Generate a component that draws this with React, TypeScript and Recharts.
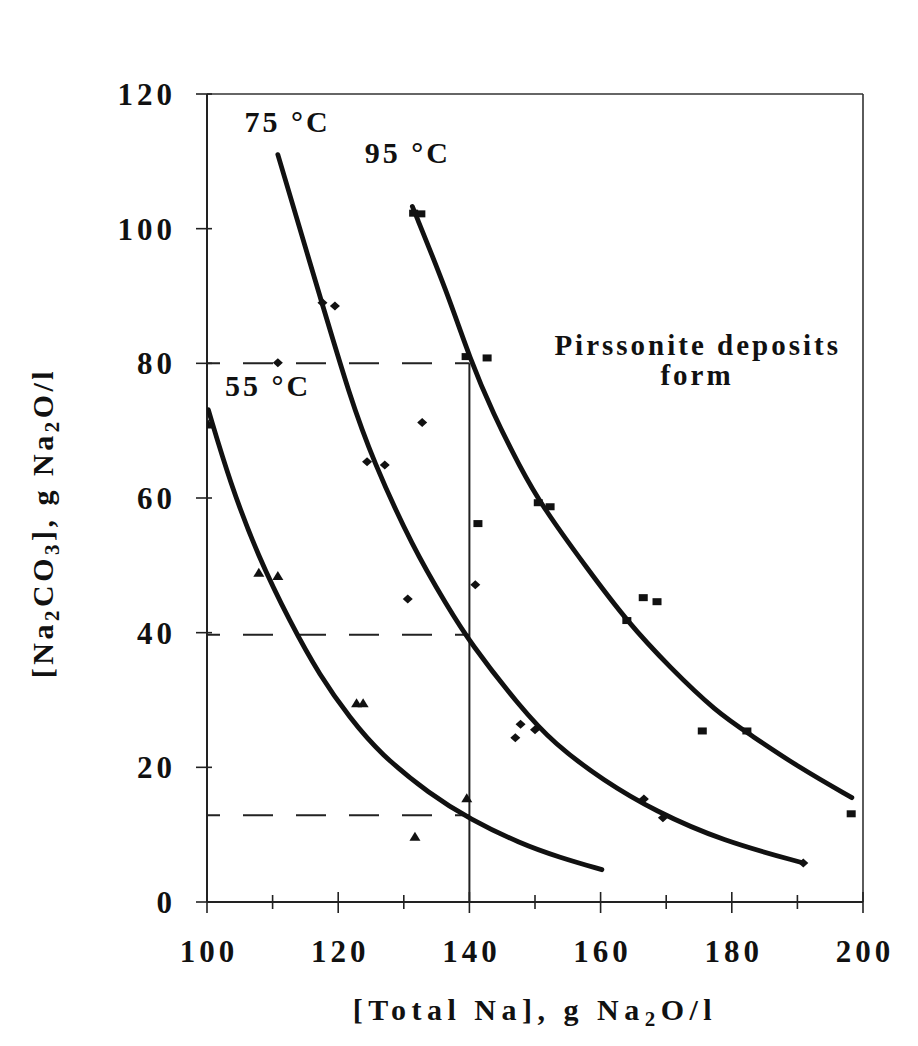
import React from 'react';
import { ComposedChart, Scatter, XAxis, YAxis, ReferenceLine, ReferenceDot, Label } from 'recharts';

const FONT = "'Liberation Serif', 'Times New Roman', serif";
const INK = '#111';

const xTicks = [100, 110, 120, 130, 140, 150, 160, 170, 180, 190, 200];
const yTicks = [0, 20, 40, 60, 80, 100, 120];

// fitted solubility curves: [Total Na] vs [Na2CO3]
const fit55 = [
  [100.2, 73.1], [103.5, 62.3], [107.8, 51.3], [112.7, 41.5], [117.2, 33.6], [121.8, 27.3],
  [126.4, 22.0], [134.0, 16.0], [140.1, 12.3], [147.7, 8.7], [153.8, 6.6], [160.2, 4.8],
];
const fit75 = [
  [110.8, 111.0], [117.2, 90.0], [121.8, 75.0], [125.3, 65.6], [131.4, 52.6], [136.6, 44.0],
  [140.1, 38.5], [147.7, 29.0], [152.9, 23.5], [160.5, 18.0], [168.3, 13.5], [178.5, 9.1], [190.9, 5.8],
];
const fit95 = [
  [131.3, 103.3], [136.6, 90.6], [140.1, 80.6], [143.6, 72.6], [147.7, 64.6], [151.2, 58.6],
  [157.9, 49.6], [164.0, 41.7], [170.6, 34.8], [177.7, 28.2], [182.6, 25.0], [190.2, 20.0], [198.3, 15.5],
];

// measured points
const meas55 = [
  [100.2, 70.9], [107.9, 48.9], [110.8, 48.4], [122.8, 29.5], [123.8, 29.5], [131.7, 9.7], [139.6, 15.4],
];
const meas75 = [
  [110.8, 80.1], [117.6, 89.0], [119.5, 88.5], [124.4, 65.4], [127.1, 64.9], [132.8, 71.2], [130.6, 45.0],
  [140.9, 47.1], [147.0, 24.4], [147.8, 26.4], [150.0, 25.6], [166.6, 15.3], [169.5, 12.5], [190.9, 5.8],
];
const meas95 = [
  [131.5, 102.3], [132.6, 102.2], [139.5, 81.0], [142.7, 80.8], [141.3, 56.2], [150.5, 59.3], [152.3, 58.7],
  [164.0, 41.8], [166.5, 45.2], [168.6, 44.6], [175.5, 25.4], [182.3, 25.4], [198.2, 13.1],
];

const toPoints = (pairs: number[][]) => pairs.map(([x, y]) => ({ x, y }));

const Nothing = () => <g />;

const Triangle = ({ cx, cy }: any) => (
  <path d={`M${cx},${cy - 5}L${cx + 5.5},${cy + 4}L${cx - 5.5},${cy + 4}Z`} fill={INK} />
);
const Square = ({ cx, cy }: any) => <rect x={cx - 4.5} y={cy - 3.5} width={9} height={7} fill={INK} />;
const Diamond = ({ cx, cy }: any) => (
  <path d={`M${cx},${cy - 4.5}L${cx + 5},${cy}L${cx},${cy + 4.5}L${cx - 5},${cy}Z`} fill={INK} />
);

const textStyle = { fontFamily: FONT, fontWeight: 700, fill: INK };

const XTick = ({ x, y, payload }: any) => {
  const major = payload.value % 20 === 0;
  return (
    <g>
      <line x1={x} x2={x} y1={y - (major ? 10 : 7)} y2={y + (major ? 11 : 7)} stroke="#222" strokeWidth={1.6} />
      {major && (
        <text x={x + 2} y={y + 60} textAnchor="middle" fontSize={31} letterSpacing={4} {...textStyle}>
          {payload.value}
        </text>
      )}
    </g>
  );
};

const YTick = ({ x, y, payload }: any) => (
  <g>
    <line x1={x - 11} x2={x + 5} y1={y} y2={y} stroke="#222" strokeWidth={1.6} />
    <text x={x - 31} y={y + 11} textAnchor="end" fontSize={31} letterSpacing={4} {...textStyle}>
      {payload.value}
    </text>
  </g>
);

const XTitle = ({ viewBox }: any) => (
  <text
    x={viewBox.x + viewBox.width / 2}
    y={viewBox.y + 118}
    textAnchor="middle"
    fontSize={30}
    letterSpacing={5.5}
    {...textStyle}
  >
    [Total Na], g Na
    <tspan dy={6} fontSize={21}>2</tspan>
    <tspan dy={-6}>O/l</tspan>
  </text>
);

const YTitle = ({ viewBox }: any) => {
  const x = viewBox.x - 54;
  const y = viewBox.y + viewBox.height / 2 + 25;
  return (
    <text
      x={x}
      y={y}
      transform={`rotate(-90 ${x} ${y})`}
      textAnchor="middle"
      fontSize={30}
      letterSpacing={3.5}
      {...textStyle}
    >
      [Na
      <tspan dy={6} fontSize={21}>2</tspan>
      <tspan dy={-6}>CO</tspan>
      <tspan dy={6} fontSize={21}>3</tspan>
      <tspan dy={-6}>], g Na</tspan>
      <tspan dy={6} fontSize={21}>2</tspan>
      <tspan dy={-6}>O/l</tspan>
    </text>
  );
};

const note = (text: string, size: number, spacing: number) => ({ cx, cy }: any) => (
  <text x={cx} y={cy} textAnchor="middle" fontSize={size} letterSpacing={spacing} {...textStyle}>
    {text}
  </text>
);

const dash = { stroke: '#222', strokeWidth: 2, strokeDasharray: '30 23', strokeDashoffset: 17 };
const curveLine = { stroke: INK, strokeWidth: 4.8, strokeLinecap: 'round' as const };

export default function App() {
  return (
    <ComposedChart
      width={900}
      height={1036}
      margin={{ top: 86, right: 45, bottom: 42, left: 99 }}
      style={{ background: '#fff' }}
    >
      <XAxis
        type="number"
        dataKey="x"
        domain={[100, 200]}
        ticks={xTicks}
        interval={0}
        height={100}
        tickSize={0}
        tickMargin={0}
        tickLine={false}
        tick={XTick}
        axisLine={{ stroke: '#222', strokeWidth: 2 }}
        allowDataOverflow
      >
        <Label content={XTitle} />
      </XAxis>
      <YAxis
        type="number"
        dataKey="y"
        domain={[0, 120]}
        ticks={yTicks}
        interval={0}
        width={100}
        tickSize={0}
        tickMargin={0}
        tickLine={false}
        tick={YTick}
        axisLine={{ stroke: '#222', strokeWidth: 2 }}
        allowDataOverflow
      >
        <Label content={YTitle} />
      </YAxis>

      {/* frame */}
      <ReferenceLine y={120} stroke="#333" strokeWidth={1.6} />
      <ReferenceLine x={200} stroke="#333" strokeWidth={1.6} />

      {/* read-off guides at 140 g/l */}
      <ReferenceLine segment={[{ x: 100, y: 80 }, { x: 140, y: 80 }]} {...dash} />
      <ReferenceLine segment={[{ x: 100, y: 39.7 }, { x: 140, y: 39.7 }]} {...dash} />
      <ReferenceLine segment={[{ x: 100, y: 12.9 }, { x: 140, y: 12.9 }]} {...dash} />
      <ReferenceLine segment={[{ x: 140, y: 0 }, { x: 140, y: 80 }]} stroke="#222" strokeWidth={2} />

      <Scatter data={toPoints(fit55)} shape={Nothing} line={curveLine} lineJointType="basis" isAnimationActive={false} />
      <Scatter data={toPoints(fit75)} shape={Nothing} line={curveLine} lineJointType="basis" isAnimationActive={false} />
      <Scatter data={toPoints(fit95)} shape={Nothing} line={curveLine} lineJointType="basis" isAnimationActive={false} />

      <Scatter data={toPoints(meas55)} shape={Triangle} isAnimationActive={false} />
      <Scatter data={toPoints(meas75)} shape={Diamond} isAnimationActive={false} />
      <Scatter data={toPoints(meas95)} shape={Square} isAnimationActive={false} />

      <ReferenceDot x={112.3} y={114.4} shape={note('75 °C', 30, 3)} ifOverflow="visible" />
      <ReferenceDot x={130.6} y={109.8} shape={note('95 °C', 30, 3)} ifOverflow="visible" />
      <ReferenceDot x={109.3} y={75.2} shape={note('55 °C', 30, 3)} ifOverflow="visible" />
      <ReferenceDot x={174.8} y={81.3} shape={note('Pirssonite deposits', 29, 3)} ifOverflow="visible" />
      <ReferenceDot x={174.7} y={76.8} shape={note('form', 29, 3)} ifOverflow="visible" />
    </ComposedChart>
  );
}
